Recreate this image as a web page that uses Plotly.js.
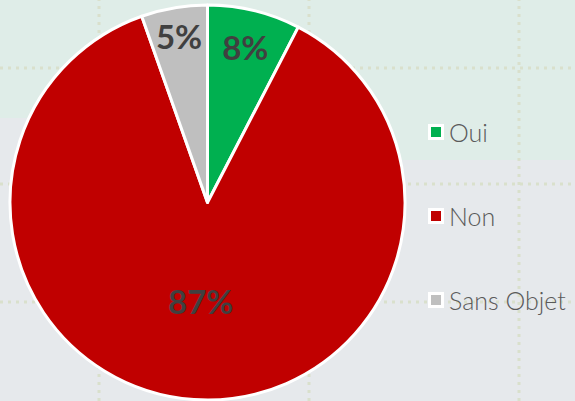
<!DOCTYPE html>
<html>
<head>
<meta charset="utf-8">
<script src="https://cdn.plot.ly/plotly-3.0.1.min.js"></script>
<style>html,body{margin:0;padding:0;background:#e6e9ec;}#chart{width:575px;height:401px;}</style>
</head>
<body>
<div id="chart"></div>
<script>
var labels = ['Oui', 'Non', 'Sans Objet'];
var values = [7.6, 87.0, 5.4];
var colors = ['#00b050', '#c00000', '#bfbfbf'];

var W = 575, H = 401;
function px(x) { return x / W; }
function py(y) { return 1 - y / H; }

var shapes = [];
// background bands
shapes.push({type:'rect', xref:'paper', yref:'paper', x0:0, x1:px(208), y0:py(118), y1:1, fillcolor:'#dfede8', line:{width:0}, layer:'below'});
shapes.push({type:'rect', xref:'paper', yref:'paper', x0:px(208), x1:1, y0:py(160), y1:1, fillcolor:'#dfede8', line:{width:0}, layer:'below'});
// dotted grid
[99, 309, 519].forEach(function(x){
  shapes.push({type:'line', xref:'paper', yref:'paper', x0:px(x), x1:px(x), y0:0, y1:1, line:{color:'#d9e0cc', width:3, dash:'3px,5px'}, layer:'below'});
});
[68, 184, 302].forEach(function(y){
  shapes.push({type:'line', xref:'paper', yref:'paper', x0:0, x1:1, y0:py(y), y1:py(y), line:{color:'#d9e0cc', width:3, dash:'3px,5px'}, layer:'below'});
});

// custom legend
var annotations = [];
labels.forEach(function(lab, i){
  var cy = 132 + i * 84;
  shapes.push({type:'rect', xref:'paper', yref:'paper', x0:px(429.5), x1:px(442.5), y0:py(cy+6.5), y1:py(cy-6.5), fillcolor:colors[i], line:{color:'#ffffff', width:3}, layer:'above'});
  annotations.push({xref:'paper', yref:'paper', x:px(447), y:py(cy), xanchor:'left', yanchor:'middle', text:lab, showarrow:false, font:{family:'Lato, sans-serif', size:25, color:'#5a5a5a', weight:300}});
});

var data = [{
  type:'pie',
  labels: labels,
  values: values,
  sort: false,
  direction: 'clockwise',
  rotation: 0,
  marker: {colors: colors, line: {color:'#ffffff', width:3}},
  texttemplate: '%{percent:.0%}',
  textposition: 'inside',
  insidetextorientation: 'horizontal',
  textfont: {family:'Lato, sans-serif', size:33, color:'#404040', weight:'bold'},
  domain: {x:[10/W, 405/W], y:[1-400/H, 1-5/H]},
  showlegend: false,
  hoverinfo: 'label+percent'
}];

var layout = {
  width: W, height: H,
  margin: {l:0, r:0, t:0, b:0},
  paper_bgcolor: '#e6e9ec',
  plot_bgcolor: 'rgba(0,0,0,0)',
  showlegend: false,
  shapes: shapes,
  annotations: annotations,
  uniformtext: {mode:'show', minsize:33}
};

Plotly.newPlot('chart', data, layout, {displayModeBar:false, staticPlot:true});
</script>
</body>
</html>
